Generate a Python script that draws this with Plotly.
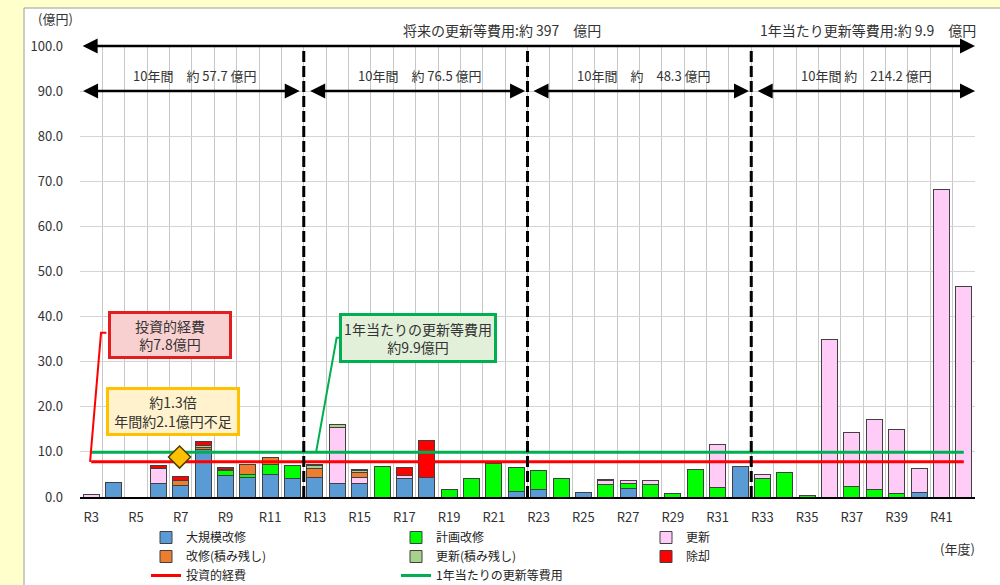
import plotly.graph_objects as go

# ---------------- data ----------------
years = ["R3", "R4", "R5", "R6", "R7", "R8", "R9", "R10", "R11", "R12",
         "R13", "R14", "R15", "R16", "R17", "R18", "R19", "R20", "R21", "R22",
         "R23", "R24", "R25", "R26", "R27", "R28", "R29", "R30", "R31", "R32",
         "R33", "R34", "R35", "R36", "R37", "R38", "R39", "R40", "R41", "R42"]

daikibo = [0, 3.3, 0, 3.0, 2.6, 10.6, 4.8, 4.3, 5.0, 4.2,
           4.3, 3.1, 2.9, 0, 4.1, 4.3, 0, 0, 0, 1.3,
           1.6, 0, 1.0, 0, 1.8, 0, 0, 0, 0, 6.7,
           0, 0, 0, 0, 0, 0, 0, 1.0, 0, 0]
keikaku = [0, 0, 0, 0, 0, 0, 1.0, 0.6, 2.1, 2.7,
           0, 0, 0, 6.7, 0, 0, 1.7, 4.2, 7.5, 5.3,
           4.2, 4.0, 0, 2.7, 1.1, 2.7, 0.7, 6.1, 2.0, 0,
           4.1, 5.5, 0.3, 0, 2.4, 1.7, 0.7, 0, 0, 0]
koshin = [0.6, 0, 0, 3.4, 0, 0, 0, 0, 0, 0,
          0, 12.3, 1.5, 0, 0.6, 0, 0, 0, 0, 0,
          0, 0, 0, 0.9, 0.7, 0.9, 0, 0, 9.7, 0,
          0.8, 0, 0, 35.0, 11.8, 15.5, 14.2, 5.4, 68.1, 46.6]
kaishu_zan = [0, 0, 0, 0, 1.1, 0.4, 0.4, 2.2, 1.6, 0,
              2.1, 0, 1.0, 0, 0, 0, 0, 0, 0, 0,
              0, 0, 0, 0, 0, 0, 0, 0, 0, 0,
              0, 0, 0, 0, 0, 0, 0, 0, 0, 0]
koshin_zan = [0, 0, 0, 0, 0, 0.5, 0, 0, 0, 0,
              0.6, 0.6, 0.5, 0, 0, 0, 0, 0, 0, 0,
              0, 0, 0, 0.2, 0, 0, 0, 0, 0, 0,
              0, 0, 0, 0, 0, 0, 0, 0, 0, 0]
jokyaku = [0, 0, 0, 0.5, 0.8, 0.8, 0.3, 0, 0, 0,
           0.3, 0, 0.3, 0, 1.8, 8.3, 0, 0, 0, 0,
           0, 0, 0, 0, 0, 0, 0, 0, 0, 0,
           0, 0, 0, 0, 0, 0, 0, 0, 0, 0]

toshi_keihi = 7.8      # 投資的経費
nenkan_hiyo = 9.9      # 1年当たりの更新等費用

series = [
    ("大規模改修", daikibo, "#5B9BD5"),
    ("計画改修", keikaku, "#00FF00"),
    ("更新", koshin, "#FFCCF7"),
    ("改修(積み残し)", kaishu_zan, "#ED7D31"),
    ("更新(積み残し)", koshin_zan, "#A9D18E"),
    ("除却", jokyaku, "#FF0000"),
]

FONT = "Noto Sans CJK JP"
TXT = "#333333"
W, H = 1000, 585

x = list(range(len(years)))

fig = go.Figure()
for name, vals, col in series:
    fig.add_trace(go.Bar(
        x=x, y=vals, name=name,
        marker=dict(color=col, line=dict(color="#404040", width=1)),
    ))

fig.add_trace(go.Scatter(
    x=x, y=[toshi_keihi] * len(x), mode="lines", name="投資的経費",
    line=dict(color="#FF0000", width=3),
))
fig.add_trace(go.Scatter(
    x=x, y=[nenkan_hiyo] * len(x), mode="lines", name="1年当たりの更新等費用",
    line=dict(color="#00B050", width=3),
))
# double arrow marker showing the shortfall (between the two lines at R7)
fig.add_trace(go.Scatter(
    x=[years.index("R7") - 0.05], y=[(toshi_keihi + nenkan_hiyo) / 2],
    mode="markers", showlegend=False, hoverinfo="skip",
    marker=dict(symbol="diamond", size=17, color="#FFC000",
                line=dict(color="#4d3b00", width=1.5)),
))

shapes = []
L, R, T, B = 80, 25, 46, 88
pw, ph = W - L - R, H - T - B


def px_x(px):
    return (px - L) / pw


def px_y(py):
    return (H - B - py) / ph


# white chart area on yellow page
shapes.append(dict(type="rect", xref="paper", yref="paper",
                   x0=px_x(24), x1=px_x(W + 5), y0=px_y(H + 5), y1=px_y(8),
                   fillcolor="white", line=dict(color="#9a9a9a", width=1),
                   layer="below"))
# dashed decade separators
for b in (9.5, 19.5, 29.5):
    shapes.append(dict(type="line", xref="x", yref="y", x0=b, x1=b, y0=0, y1=100,
                       line=dict(color="black", width=3, dash="11px,4px")))
# callout connectors
shapes.append(dict(type="path", xref="x", yref="y",
                   path=f"M 0.68 36.4 L 0.44 36.4 L -0.05 {toshi_keihi}",
                   line=dict(color="#FF0000", width=2)))
shapes.append(dict(type="path", xref="x", yref="y",
                   path=f"M 11.1 35.3 L 10.97 35.3 L 10.05 {nenkan_hiyo}",
                   line=dict(color="#00B050", width=2)))

ann = []


def darrow(x0, x1, y):
    ann.append(dict(x=x1, y=y, ax=x0, ay=y, xref="x", yref="y", axref="x", ayref="y",
                    text="", showarrow=True, arrowhead=2, arrowsize=1.2,
                    arrowwidth=2.5, arrowcolor="black", arrowside="end+start"))


darrow(-0.45, 39.5, 100)
darrow(-0.43, 9.32, 90)
darrow(9.72, 19.39, 90)
darrow(19.7, 29.4, 90)
darrow(29.72, 39.5, 90)


def label(xc, y, text, size=13, yshift=4):
    ann.append(dict(x=xc, y=y, xref="x", yref="y", text=text, showarrow=False,
                    yanchor="bottom", yshift=yshift,
                    font=dict(family=FONT, size=size, color=TXT)))


label(18.35, 100, "将来の更新等費用:約 397　億円", 14)
label(34.7, 100, "1年当たり更新等費用:約 9.9　億円", 14)
label(4.62, 90, "10年間　約 57.7 億円", 13)
label(14.7, 90, "10年間　約 76.5 億円", 13)
label(24.7, 90, "10年間　約　48.3 億円", 13)
label(34.65, 90, "10年間 約　214.2 億円", 13)


def box(xc, yc, text, bg, border, w, h):
    ann.append(dict(x=xc, y=yc, xref="x", yref="y", text=text, showarrow=False,
                    bgcolor=bg, bordercolor=border, borderwidth=3, borderpad=0,
                    width=w, height=h, align="center",
                    font=dict(family=FONT, size=14, color=TXT)))


box(3.52, 36.0, "投資的経費<br>約7.8億円", "#F9D0D0", "#E41E1E", 118, 42)
box(3.66, 18.9, "約1.3倍<br>年間約2.1億円不足", "#FFF2CC", "#FFC000", 128, 43)
box(14.6, 35.3, "1年当たりの更新等費用<br>約9.9億円", "#E2F0D9", "#00B050", 152, 44)

ann.append(dict(x=px_x(55), y=px_y(18), xref="paper", yref="paper", text="(億円)",
                xanchor="center", yanchor="middle",
                showarrow=False, font=dict(family=FONT, size=13, color=TXT)))
ann.append(dict(x=px_x(957), y=px_y(548), xref="paper", yref="paper", text="(年度)",
                xanchor="center", yanchor="middle",
                showarrow=False, font=dict(family=FONT, size=13, color=TXT)))

boundaries = [i - 0.5 for i in range(len(years) + 1)]

fig.update_layout(
    width=W, height=H,
    margin=dict(l=L, r=R, t=T, b=B, autoexpand=False),
    paper_bgcolor="#FFFFCC", plot_bgcolor="white",
    barmode="stack", bargap=0.28,
    font=dict(family=FONT, size=13, color=TXT),
    shapes=shapes, annotations=ann,
    showlegend=True,
    legend=dict(orientation="h", xref="container", yref="container",
                x=146 / W, xanchor="left",
                y=1 - 523 / H, yanchor="top",
                traceorder="normal", entrywidth=205, entrywidthmode="pixels",
                font=dict(family=FONT, size=12, color="#222222"),
                bgcolor="rgba(0,0,0,0)", itemclick=False, tracegroupgap=0),
    xaxis=dict(range=[-0.5, len(years) - 0.5], tickmode="array",
               tickvals=x[::2], ticktext=years[::2], showgrid=False,
               showline=True, linecolor="black", linewidth=2, zeroline=False,
               ticks="", ticklabelstandoff=7,
               tickfont=dict(family=FONT, size=13, color=TXT),
               minor=dict(tickmode="array", tickvals=boundaries, showgrid=True,
                          gridcolor="#C8C8C8", gridwidth=1, ticks="")),
    yaxis=dict(range=[0, 100], dtick=10, tickformat=".1f", showgrid=True,
               gridcolor="#D4D4D4", gridwidth=1, zeroline=False, showline=False,
               ticks="", ticklabelstandoff=16,
               tickfont=dict(family=FONT, size=13, color=TXT)),
)

fig.write_html("out.html")
